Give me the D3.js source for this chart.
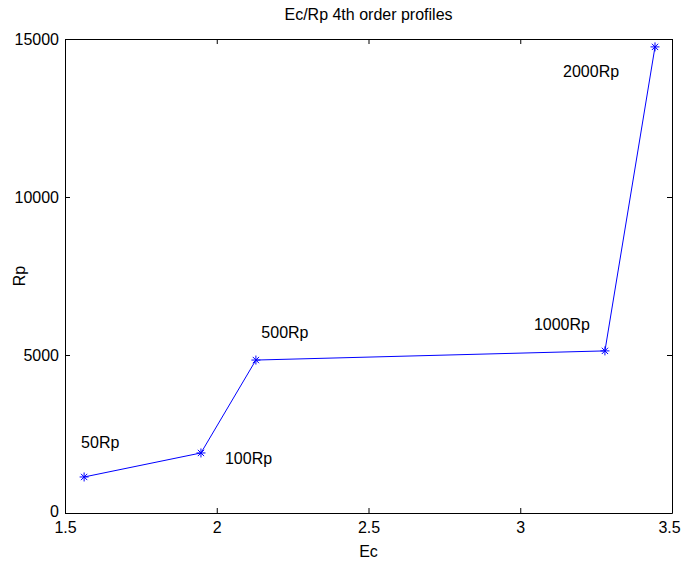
<!DOCTYPE html>
<html>
<head>
<meta charset="utf-8">
<script src="https://cdn.jsdelivr.net/npm/d3@7"></script>
<style>
  body { margin: 0; background: #fff; }
  text { font-family: "Liberation Sans", Arial, sans-serif; fill: #000; }
</style>
</head>
<body>
<div id="chart"></div>
<script>
// data
const ec = [1.563, 1.948, 2.129, 3.279, 3.444];
const rp = [1140, 1900, 4840, 5130, 14750];
const labels = ['50Rp', '100Rp', '500Rp', '1000Rp', '2000Rp'];
// where each label sits, in data units
const labelEc = [1.553, 2.027, 2.147, 3.045, 3.141];
const labelRp = [2230, 1740, 5700, 5980, 13990];
const xTicks = [1.5, 2, 2.5, 3, 3.5];
const yTicks = [0, 5000, 10000, 15000];

const margin = { top: 39, right: 9, bottom: 56, left: 65 };
const width = 681 - margin.left - margin.right;
const height = 569 - margin.top - margin.bottom;
const fontSize = '16px';

const svg = d3.select('#chart')
    .append('svg')
    .attr('width', 681)
    .attr('height', 569);

const g = svg.append('g')
    .attr('transform', `translate(${margin.left},${margin.top})`);

const x = d3.scaleLinear().domain([1.5, 3.5]).range([0, width]);
const y = d3.scaleLinear().domain([0, 15000]).range([height, 0]);

// axes, ticks pointing inward like matlab
const fmt = d => String(d);
const xAxis = g.append('g')
    .attr('transform', `translate(0,${height})`)
    .call(d3.axisBottom(x).tickValues(xTicks).tickFormat(fmt).tickSizeInner(-5).tickSizeOuter(0).tickPadding(9));
g.append('g')
    .call(d3.axisTop(x).tickValues(xTicks).tickFormat('').tickSizeInner(-5).tickSizeOuter(0));
const yAxis = g.append('g')
    .call(d3.axisLeft(y).tickValues(yTicks).tickFormat(fmt).tickSizeInner(-5).tickSizeOuter(0).tickPadding(6));
g.append('g')
    .attr('transform', `translate(${width},0)`)
    .call(d3.axisRight(y).tickValues(yTicks).tickFormat('').tickSizeInner(-5).tickSizeOuter(0));

g.selectAll('.domain').attr('stroke', '#000');
g.selectAll('.tick line').attr('stroke', '#000');
g.selectAll('.tick text').style('font-size', fontSize);
// keep the last x label inside the window, lift the 0 a little
xAxis.selectAll('.tick text').filter(d => d === 3.5).attr('x', -3);
yAxis.selectAll('.tick text').filter(d => d === 0).attr('y', -2);

// the line
const pts = ec.map((d, i) => [d, rp[i]]);
g.append('path')
    .datum(pts)
    .attr('fill', 'none')
    .attr('stroke', '#0000ff')
    .attr('stroke-width', 1)
    .attr('d', d3.line().x(d => x(d[0])).y(d => y(d[1])));

// asterisk markers
const star = g.selectAll('.star')
    .data(pts)
    .enter()
    .append('g')
    .attr('transform', d => `translate(${x(d[0])},${y(d[1])})`);
const r = 4.5;
[[0, -r, 0, r], [-r, 0, r, 0], [-r * 0.7, -r * 0.7, r * 0.7, r * 0.7], [-r * 0.7, r * 0.7, r * 0.7, -r * 0.7]].forEach(s => {
    star.append('line')
        .attr('x1', s[0]).attr('y1', s[1])
        .attr('x2', s[2]).attr('y2', s[3])
        .attr('stroke', '#0000ff')
        .attr('stroke-width', 1);
});

// point labels
g.selectAll('.lbl')
    .data(labels)
    .enter()
    .append('text')
    .attr('x', (d, i) => x(labelEc[i]))
    .attr('y', (d, i) => y(labelRp[i]))
    .attr('dy', '0.35em')
    .style('font-size', fontSize)
    .text(d => d);

// title and axis labels
svg.append('text')
    .attr('x', margin.left + width / 2)
    .attr('y', 20)
    .attr('text-anchor', 'middle')
    .style('font-size', fontSize)
    .text('Ec/Rp 4th order profiles');

svg.append('text')
    .attr('x', margin.left + width / 2)
    .attr('y', 557)
    .attr('text-anchor', 'middle')
    .style('font-size', fontSize)
    .text('Ec');

svg.append('text')
    .attr('transform', `translate(25,${margin.top + height / 2}) rotate(-90)`)
    .attr('text-anchor', 'middle')
    .style('font-size', fontSize)
    .text('Rp');
</script>
</body>
</html>
